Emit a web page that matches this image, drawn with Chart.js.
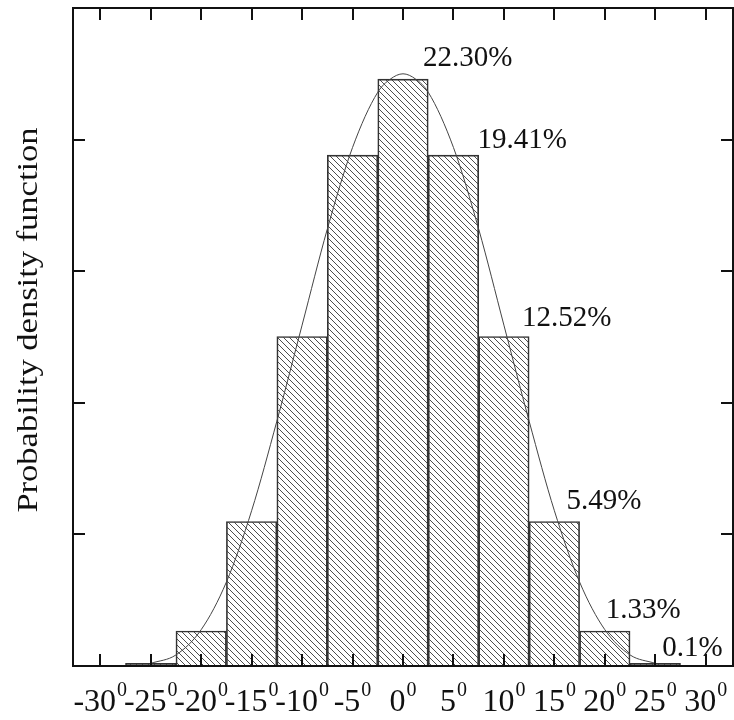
<!DOCTYPE html>
<html>
<head>
<meta charset="utf-8">
<script src="https://cdn.jsdelivr.net/npm/chart.js@4.4.0/dist/chart.umd.min.js"></script>
<style>
  html, body { margin: 0; padding: 0; background: #fff; }
</style>
</head>
<body>
<canvas id="chart" width="734" height="720"></canvas>
<script>
// histogram bins (degrees) and share of samples in each (%)
const binCenters = [-25, -20, -15, -10, -5, 0, 5, 10, 15, 20, 25]
const binPercents = [0.1, 1.33, 5.49, 12.52, 19.41, 22.30, 19.41, 12.52, 5.49, 1.33, 0.1]
// labels written over the right half of the histogram (bins 0..25)
const percentLabels = ['22.30%', '19.41%', '12.52%', '5.49%', '1.33%', '0.1%']

// fitted density curve
const curveX = [-25, -22.5, -20, -17.5, -15, -12.5, -10, -7.5, -5, -2.5, -1.25, 0, 1.25, 2.5, 5, 7.5, 10, 12.5, 15, 17.5, 20, 22.5, 25]
const curveY = [0.1, 0.42, 1.38, 3.19, 5.9, 9.3, 12.95, 16.6, 19.7, 21.8, 22.3, 22.5, 22.3, 21.8, 19.7, 16.6, 12.95, 9.3, 5.9, 3.19, 1.38, 0.42, 0.1]

const xTicks = [-30, -25, -20, -15, -10, -5, 0, 5, 10, 15, 20, 25, 30]
const yTicks = [5, 10, 15, 20]

const FONT = '"Liberation Serif", "Times New Roman", serif'

// diagonal hatch fill for the bars
function hatch() {
    const s = 6
    const c = document.createElement('canvas')
    c.width = s
    c.height = s
    const g = c.getContext('2d')
    g.strokeStyle = '#3a3a3a'
    g.lineWidth = 0.9
    g.beginPath()
    g.moveTo(0, 0); g.lineTo(s, s)
    g.moveTo(-1, s - 1); g.lineTo(1, s + 1)
    g.moveTo(s - 1, -1); g.lineTo(s + 1, 1)
    g.stroke()
    return g.createPattern(c, 'repeat')
}

// pixel nudges for the percent labels, relative to bar centre / top
const labelNudge = [[20, -13], [24, -7], [18, -10], [12, -13], [1, -13], [7, -7]]

const decorations = {
    id: 'decorations',
    afterDraw(chart) {
        const { ctx, chartArea: a, scales: { x, y } } = chart
        ctx.save()
        ctx.strokeStyle = '#111'
        ctx.fillStyle = '#111'

        // inward ticks on all four sides
        ctx.lineWidth = 2
        ctx.beginPath()
        xTicks.forEach(v => {
            const px = Math.round(x.getPixelForValue(v))
            ctx.moveTo(px, a.bottom); ctx.lineTo(px, a.bottom - 12)
            ctx.moveTo(px, a.top); ctx.lineTo(px, a.top + 12)
        })
        yTicks.forEach(v => {
            const py = Math.round(y.getPixelForValue(v))
            ctx.moveTo(a.left, py); ctx.lineTo(a.left + 12, py)
            ctx.moveTo(a.right, py); ctx.lineTo(a.right - 12, py)
        })
        ctx.stroke()
        ctx.strokeRect(a.left, a.top, a.right - a.left, a.bottom - a.top)

        // x tick labels with a superscript 0 (degrees)
        ctx.textBaseline = 'alphabetic'
        ctx.textAlign = 'left'
        xTicks.forEach(v => {
            const px = x.getPixelForValue(v)
            const main = String(v)
            ctx.font = `32px ${FONT}`
            const w1 = ctx.measureText(main).width
            ctx.font = `20px ${FONT}`
            const w2 = ctx.measureText('0').width
            const start = px - (w1 + w2 + 1) / 2
            ctx.font = `32px ${FONT}`
            ctx.fillText(main, start, 711)
            ctx.font = `20px ${FONT}`
            ctx.fillText('0', start + w1 + 1, 696)
        })

        // percent labels over the right half
        const bars = chart.getDatasetMeta(0).data
        ctx.font = `29px ${FONT}`
        percentLabels.forEach((txt, i) => {
            const bar = bars[5 + i]
            const [dx, dy] = labelNudge[i]
            ctx.fillText(txt, bar.x + dx, bar.y + dy)
        })

        // y axis title
        ctx.translate(29, 320)
        ctx.rotate(-Math.PI / 2)
        ctx.scale(1.15, 1)
        ctx.textAlign = 'center'
        ctx.textBaseline = 'middle'
        ctx.font = `30px ${FONT}`
        ctx.fillText('Probability density function', 0, 0)
        ctx.restore()
    }
}

new Chart(document.getElementById('chart'), {
    type: 'bar',
    data: {
        datasets: [
            {
                type: 'bar',
                data: binCenters.map((c, i) => ({ x: c, y: binPercents[i] })),
                backgroundColor: hatch(),
                borderColor: '#333',
                borderWidth: 1,
                barPercentage: 1,
                categoryPercentage: 1,
                order: 2
            },
            {
                type: 'line',
                data: curveX.map((c, i) => ({ x: c, y: curveY[i] })),
                borderColor: '#444',
                borderWidth: 1,
                pointRadius: 0,
                fill: false,
                cubicInterpolationMode: 'monotone',
                order: 1
            }
        ]
    },
    options: {
        responsive: false,
        devicePixelRatio: 1,
        animation: false,
        layout: { padding: { left: 73, right: 1, top: 8, bottom: 54 } },
        scales: {
            x: { type: 'linear', min: -32.7, max: 32.7, offset: false, display: false },
            y: { min: 0, max: 25, display: false }
        },
        plugins: {
            legend: { display: false },
            tooltip: { enabled: false }
        }
    },
    plugins: [decorations]
})
</script>
</body>
</html>
